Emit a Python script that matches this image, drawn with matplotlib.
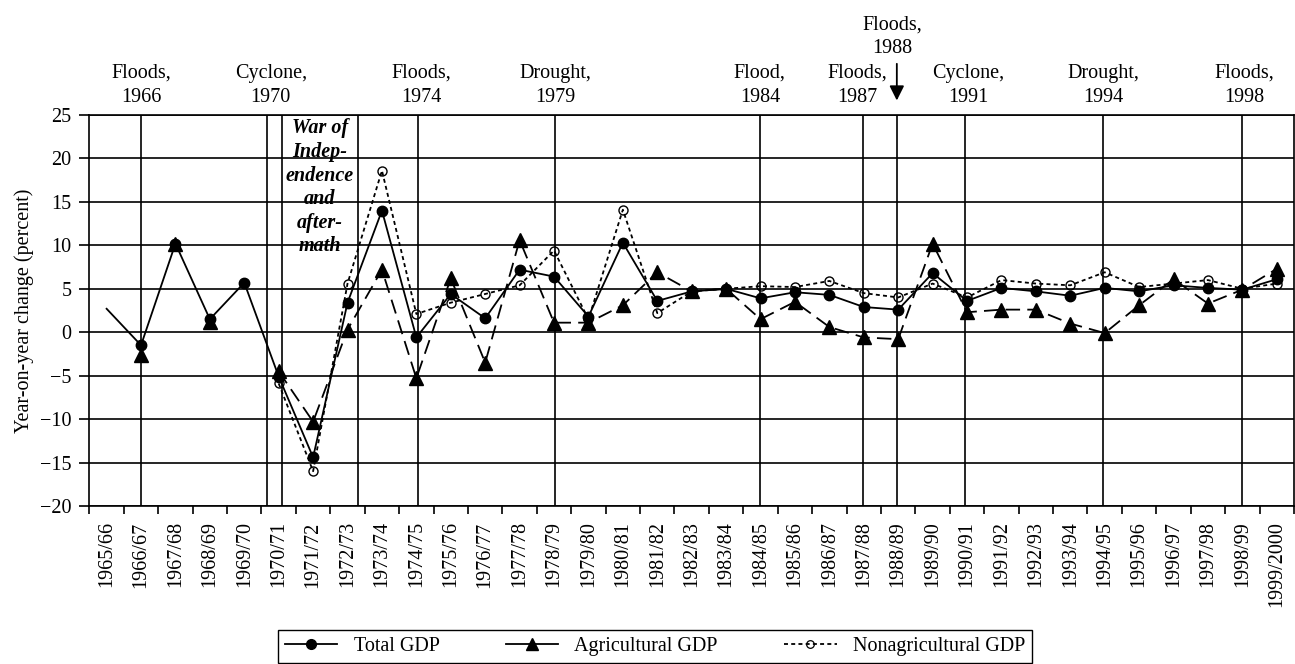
import numpy as np
import matplotlib
matplotlib.use("Agg")
import matplotlib.pyplot as plt
from matplotlib.lines import Line2D
from matplotlib.patches import Rectangle

plt.rcParams["font.family"] = ["Liberation Serif", "DejaVu Serif"]
plt.rcParams["font.size"] = 14.5

# fiscal years
years = ["1965/66", "1966/67", "1967/68", "1968/69", "1969/70", "1970/71",
         "1971/72", "1972/73", "1973/74", "1974/75", "1975/76", "1976/77",
         "1977/78", "1978/79", "1979/80", "1980/81", "1981/82", "1982/83",
         "1983/84", "1984/85", "1985/86", "1986/87", "1987/88", "1988/89",
         "1989/90", "1990/91", "1991/92", "1992/93", "1993/94", "1994/95",
         "1995/96", "1996/97", "1997/98", "1998/99", "1999/2000"]

# year-on-year change, percent
total_gdp = [2.7, -1.5, 10.2, 1.5, 5.7, -5.1, -14.4, 3.4, 14.0, -0.6,
             4.4, 1.6, 7.2, 6.4, 1.8, 10.3, 3.6, 4.7, 5.0, 3.9,
             4.6, 4.3, 2.9, 2.6, 6.8, 3.6, 5.1, 4.7, 4.2, 5.1,
             4.7, 5.4, 5.1, 4.9, 6.1]
agri_gdp = [np.nan, -2.6, 10.2, 1.2, np.nan, -4.5, -10.3, 0.3, 7.2, -5.3,
            6.2, -3.5, 10.6, 1.1, 1.1, 3.1, 6.9, 4.7, 5.0, 1.5,
            3.5, 0.6, -0.6, -0.8, 10.2, 2.3, 2.6, 2.6, 1.0, -0.1,
            3.1, 6.1, 3.3, 4.9, 7.3]
nonagri_gdp = [np.nan, np.nan, np.nan, np.nan, np.nan, -5.9, -16.0, 5.6, 18.6, 2.1,
               3.4, 4.4, 5.4, 9.4, 1.5, 14.1, 2.2, 4.7, 5.0, 5.3,
               5.2, 5.9, 4.5, 4.0, 5.6, 4.0, 6.0, 5.6, 5.4, 6.9,
               5.2, 5.6, 6.0, 5.0, 5.6]

# events: label, position of vertical line, label position
events = [("Floods,\n1966", 1.0, 1.0),
          ("Cyclone,\n1970", 4.65, 4.77),
          ("Floods,\n1974", 9.05, 9.15),
          ("Drought,\n1979", 13.03, 13.03),
          ("Flood,\n1984", 18.98, 18.98),
          ("Floods,\n1987", 21.98, 21.8),
          ("Cyclone,\n1991", 24.94, 25.03),
          ("Drought,\n1994", 28.95, 28.95),
          ("Floods,\n1998", 33.0, 33.05)]
war_start, war_end = 5.1, 7.3
flood_1988 = 22.96

x = np.arange(len(years))
total_gdp = np.array(total_gdp)
agri_gdp = np.array(agri_gdp)
nonagri_gdp = np.array(nonagri_gdp)

fig = plt.figure(figsize=(12.95, 6.64), dpi=100)
ax = fig.add_axes([89.4 / 1295, 1 - 506 / 664, (1294 - 89.4) / 1295, (506 - 115) / 664])

# grid and event lines
ax.yaxis.grid(True, color="black", linewidth=1.2, zorder=0)
ax.set_axisbelow(True)
for label, xl, xt in events:
    ax.axvline(xl, color="black", linewidth=1.2, zorder=1)
    ax.annotate(label, xy=(xt, 1.0), xycoords=("data", "axes fraction"),
                xytext=(0, 6), textcoords="offset points",
                ha="center", va="bottom", linespacing=1.35)
ax.axvline(war_start, color="black", linewidth=1.2, zorder=1)
ax.axvline(war_end, color="black", linewidth=1.2, zorder=1)
ax.axvline(flood_1988, color="black", linewidth=1.2, zorder=1)

# war box
ax.add_patch(Rectangle((war_start + 0.04, 7.8), war_end - war_start - 0.08, 17.1,
                       facecolor="white", edgecolor="none", zorder=0.5))
ax.text((war_start + war_end) / 2, 24.6, "War of\nIndep-\nendence\nand\nafter-\nmath",
        ha="center", va="top", fontweight="bold", fontstyle="italic",
        linespacing=1.24, zorder=2)

# 1988 floods label with arrow
ax.annotate("Floods,\n1988", xy=(22.83, 1.146), xycoords=("data", "axes fraction"),
            ha="center", va="bottom", linespacing=1.3, annotation_clip=False)
ax.annotate("", xy=(flood_1988, 1.03), xytext=(flood_1988, 1.138),
            xycoords=("data", "axes fraction"),
            arrowprops=dict(arrowstyle="-|>", color="black", lw=1.3, mutation_scale=22),
            annotation_clip=False)

# series
ax.plot(x, nonagri_gdp, color="black", linewidth=1.3, linestyle=(0, (2.2, 1.8)),
        marker="o", markersize=6.5, markerfacecolor="none", markeredgewidth=1.0, zorder=3)
ax.plot(x[5:], agri_gdp[5:], color="black", linewidth=1.3, linestyle=(0, (8, 4)), zorder=3)
ax.plot(x, agri_gdp, color="black", linestyle="none", marker="^", markersize=10, zorder=4)
ax.plot(x, total_gdp, color="black", linewidth=1.3, zorder=5)
ax.plot(x[1:], total_gdp[1:], color="black", linestyle="none", marker="o", markersize=7.5, zorder=5)

# axes
ax.set_xlim(-0.5, 34.5)
ax.set_ylim(-20, 25)
ax.set_yticks(range(-20, 26, 5))
ax.set_xticks(x)
ax.set_xticklabels(years, rotation=90, ha="center", va="top")
ax.set_xticks(np.arange(-0.5, 35, 1), minor=True)
ax.tick_params(axis="x", which="major", length=0, pad=11)
ax.tick_params(axis="x", which="minor", length=6, width=1.2, direction="out")
ax.tick_params(axis="y", length=7, width=1.2, direction="out", pad=6)
for s in ax.spines.values():
    s.set_linewidth(1.2)
ax.set_ylabel("Year-on-year change (percent)", labelpad=4)

# legend
handles = [Line2D([], [], color="black", lw=1.3, marker="o", markersize=7),
           Line2D([], [], color="black", lw=1.3, marker="^", markersize=9),
           Line2D([], [], color="black", lw=1.3, linestyle=(0, (2.2, 1.8)), marker="o",
                  markersize=5.5, markerfacecolor="none", markeredgewidth=0.9)]
leg = fig.legend(handles, ["Total GDP", "Agricultural GDP", "Nonagricultural GDP"],
                 loc="lower left", bbox_to_anchor=(278 / 1295, 1 / 664, (1032 - 278) / 1295, 0.05),
                 mode="expand", ncol=3, frameon=True, fancybox=False, edgecolor="black",
                 framealpha=1, borderaxespad=0, handlelength=2.6, borderpad=0.35)
leg.get_frame().set_linewidth(1.0)

fig.savefig("out.png", dpi=100)
